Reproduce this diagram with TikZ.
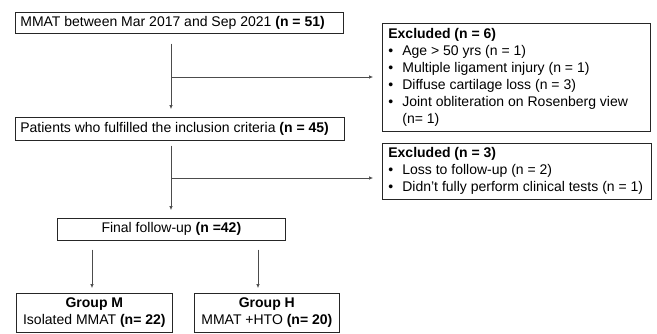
\documentclass[tikz,border=0pt]{standalone}
\usepackage{fontspec}
\setmainfont{Liberation Sans}
\usetikzlibrary{arrows.meta}
\newcommand\bul{\makebox[14pt][l]{•}}
\newcommand\lines[2]{\parbox[c]{#1}{\raggedright #2}}
\begin{document}
\begin{tikzpicture}[x=1pt,y=-1pt,
 box/.style={draw=black!85, line width=0.7pt, inner ysep=0pt, font=\fontsize{14}{17}\selectfont},
 lbox/.style={box, inner xsep=5pt},
 cbox/.style={box, align=center, inner xsep=0pt},
 arr/.style={draw=black!70, line width=0.6pt, -{Latex[length=4pt,width=3.5pt]}}]
\useasboundingbox[fill=white] (0,0) rectangle (657,333);
\node[lbox, anchor=north west, minimum height=21pt] (n1) at (15,12)
  {\lines{318pt}{MMAT between Mar 2017 and Sep 2021 \textbf{(n = 51)}}};
\node[lbox, anchor=north west, minimum height=23pt] (n2) at (15,117)
  {\lines{319pt}{Patients who fulfilled the inclusion criteria \textbf{(n = 45)}}};
\node[lbox, anchor=north west, minimum height=108pt, inner xsep=6pt] (ex1) at (382,23)
  {\lines{256pt}{\textbf{Excluded (n = 6)}\\
   \mbox{\bul Age > 50 yrs (n = 1)}\\
   \mbox{\bul Multiple ligament injury (n = 1)}\\
   \mbox{\bul Diffuse cartilage loss (n = 3)}\\
   \mbox{\bul Joint obliteration on Rosenberg view}\\
   \mbox{\hspace*{14pt}(n= 1)}}};
\node[lbox, anchor=north west, minimum height=56pt, inner xsep=6pt] (ex2) at (382,143)
  {\lines{257pt}{\textbf{Excluded (n = 3)}\\
   \mbox{\bul Loss to follow-up (n = 2)}\\
   \mbox{\bul Didn’t fully perform clinical tests (n = 1)}}};
\node[cbox, anchor=north west, minimum width=228pt, minimum height=22pt] (fin) at (57,218)
  {Final follow-up \textbf{(n =42)}};
\node[cbox, anchor=north west, minimum width=156pt, minimum height=38.5pt] (gm) at (16,293)
  {\textbf{Group M}\\Isolated MMAT \textbf{(n= 22)}};
\node[cbox, anchor=north west, minimum width=145pt, minimum height=38.5pt] (gh) at (194,293)
  {\textbf{Group H}\\MMAT +HTO \textbf{(n= 20)}};
\coordinate (c1) at (171,77);
\coordinate (c2) at (171,178);
\coordinate (c3) at (92,265);
\coordinate (c4) at (258,265);
\draw[arr, shorten <=10pt, shorten >=8pt] (n1.south -| c1) -- (n2.north -| c1);
\draw[arr, shorten >=9pt] (c1) -- (ex1.west |- c1);
\draw[arr, shorten <=5pt, shorten >=8pt] (n2.south -| c2) -- (fin.north -| c2);
\draw[arr, shorten >=9pt] (c2) -- (ex2.west |- c2);
\draw[arr, shorten <=9pt, shorten >=5pt] (fin.south -| c3) -- (gm.north -| c3);
\draw[arr, shorten <=9pt, shorten >=5pt] (fin.south -| c4) -- (gh.north -| c4);
\end{tikzpicture}
\end{document}
